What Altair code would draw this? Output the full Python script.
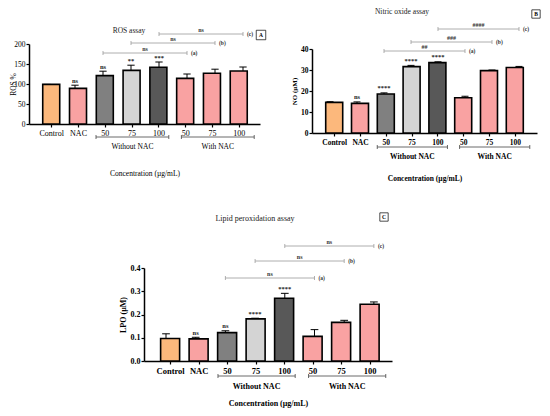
import json
import altair as alt
import pandas as pd

# ---------------- data ----------------
categories = ["Control", "NAC", "50", "75", "100", "50", "75", "100"]
positions = [1, 2, 3, 4, 5, 6, 7, 8]
keys = ["control", "nac", "wo50", "wo75", "wo100", "w50", "w75", "w100"]

ros_mean = [99, 89, 121, 134, 142, 114, 127, 132.5]
ros_err = [0, 8, 11, 13, 13, 11, 10, 10]
ros_sig = ["", "ns", "ns", "**", "***", "", "", ""]

no_mean = [14.6, 14.1, 18.6, 31.6, 33.5, 16.8, 29.7, 31.2]
no_err = [0.3, 0.7, 0.5, 0.6, 0.4, 0.7, 0.3, 0.5]
no_sig = ["", "ns", "****", "****", "****", "", "", ""]

lpo_mean = [0.097, 0.095, 0.122, 0.181, 0.270, 0.106, 0.166, 0.244]
lpo_err = [0.020, 0.007, 0.008, 0.003, 0.021, 0.029, 0.009, 0.010]
lpo_sig = ["", "ns", "ns", "****", "****", "", "", ""]

group_names = ["Without NAC", "With NAC"]
group_start = [2.75, 5.8]
group_end = [5.35, 8.4]

comp_from = [3, 4, 5]
comp_to = [6, 7, 8]
comp_tag = ["(a)", "(b)", "(c)"]
ros_comp = ["ns", "ns", "ns"]
no_comp = ["##", "###", "####"]
lpo_comp = ["ns", "ns", "ns"]

# ---------------- style ----------------
palette = ["#FCB87C", "#F9A2A2", "#808080", "#D4D4D4", "#585858",
           "#F9A2A2", "#F9A2A2", "#F9A2A2"]
FONT = "Liberation Serif"
W, H = 534, 400
LINE_GRAY = "#9a9a9a"

label_expr = json.dumps(categories) + "[datum.value - 1]"


def panel(mean, err, sig, comps, cfg):
    df = pd.DataFrame({"pos": positions, "key": keys, "mean": mean,
                       "err": err, "sig": sig})
    bold = "bold" if cfg["bold"] else "normal"

    def xs():
        return alt.Scale(domain=cfg["xd"], range=cfg["xr"], nice=False, zero=False)

    def ys():
        return alt.Scale(domain=cfg["yd"], range=cfg["yr"], nice=False, zero=False)

    xa = alt.Axis(orient="bottom", values=positions, labelExpr=label_expr,
                  offset=cfg["yr"][0] - H, title="Concentration (µg/mL)",
                  titleY=cfg["xtitle_y"], titleBaseline="middle",
                  titleFontWeight=bold, titleFontSize=cfg["xtitle_fs"],
                  labelFontWeight=bold, labelFontSize=cfg["xlab_fs"],
                  labelAngle=0, tickSize=3, labelPadding=2)
    ya = alt.Axis(orient="left", values=cfg["yticks"], format=cfg["yfmt"],
                  offset=-cfg["xr"][0], title=cfg["ytitle"],
                  titleX=cfg["ytitle_x"], titleBaseline="middle",
                  titleFontWeight=bold, titleFontSize=cfg["ytitle_fs"],
                  labelFontWeight=bold, labelFontSize=cfg["ylab_fs"],
                  tickSize=3, labelPadding=1)

    base = alt.Chart(df).transform_calculate(
        top="datum.mean + datum.err",
        cl="datum.pos - 0.13",
        cr="datum.pos + 0.13",
    )
    bars = base.mark_bar(size=cfg["bw"], stroke="black", strokeWidth=1.6,
                         orient="vertical").encode(
        x=alt.X("pos:Q", scale=xs(), axis=xa),
        y=alt.Y("mean:Q", scale=ys(), axis=ya),
        fill=alt.Fill("key:N", scale=alt.Scale(domain=keys, range=palette),
                      legend=None),
    )
    err_line = base.mark_rule(color="black", strokeWidth=1).encode(
        x=alt.X("pos:Q", scale=xs(), axis=None),
        y=alt.Y("mean:Q", scale=ys(), axis=None),
        y2="top:Q",
    )
    err_cap = base.mark_rule(color="black", strokeWidth=1).encode(
        x=alt.X("cl:Q", scale=xs(), axis=None),
        x2="cr:Q",
        y=alt.Y("top:Q", scale=ys(), axis=None),
    )
    stars = base.mark_text(baseline="bottom", dy=-1.5, font=FONT,
                           fontSize=6.5, fontWeight="bold", color="#222").encode(
        x=alt.X("pos:Q", scale=xs(), axis=None),
        y=alt.Y("top:Q", scale=ys(), axis=None),
        text="sig:N",
    )
    layers = [bars, err_line, err_cap, stars]

    # group brackets under the axis
    gdf = pd.DataFrame({"name": group_names, "start": group_start,
                        "end": group_end})
    gb = alt.Chart(gdf)
    yb = cfg["yr"][0] + cfg["bracket_dy"]
    layers.append(gb.mark_rule(color="#444", strokeWidth=0.8).encode(
        x=alt.X("start:Q", scale=xs(), axis=None), x2="end:Q", y=alt.value(yb)))
    layers.append(gb.transform_fold(["start", "end"], as_=["k", "v"])
                  .mark_rule(color="#444", strokeWidth=0.8).encode(
        x=alt.X("v:Q", scale=xs(), axis=None),
        y=alt.value(yb - 2), y2=alt.value(yb + 2)))
    layers.append(gb.transform_calculate(mid="(datum.start + datum.end) / 2")
                  .mark_text(baseline="middle", font=FONT,
                             fontSize=cfg["group_fs"], fontWeight=bold,
                             color="black").encode(
        x=alt.X("mid:Q", scale=xs(), axis=None),
        y=alt.value(cfg["yr"][0] + cfg["group_dy"]), text="name:N"))

    # comparison lines above
    cdf = pd.DataFrame({"from": comp_from, "to": comp_to, "label": comps,
                        "tag": comp_tag})
    for tag, yy in zip(comp_tag, cfg["comp_y"]):
        cb = alt.Chart(cdf).transform_filter(alt.datum.tag == tag)
        layers.append(cb.mark_rule(color=LINE_GRAY, strokeWidth=0.8).encode(
            x=alt.X("from:Q", scale=xs(), axis=None), x2="to:Q",
            y=alt.value(yy)))
        layers.append(cb.transform_fold(["from", "to"], as_=["k", "v"])
                      .mark_rule(color=LINE_GRAY, strokeWidth=0.8).encode(
            x=alt.X("v:Q", scale=xs(), axis=None),
            y=alt.value(yy - 2), y2=alt.value(yy + 2)))
        layers.append(cb.transform_calculate(mid="(datum.from + datum.to) / 2")
                      .mark_text(baseline="bottom", dy=-1, font=FONT,
                                 fontSize=6, fontWeight="bold",
                                 color="#333").encode(
            x=alt.X("mid:Q", scale=xs(), axis=None), y=alt.value(yy),
            text="label:N"))
        layers.append(cb.mark_text(align="left", baseline="middle", dx=4,
                                   font=FONT, fontSize=5.5, fontWeight="bold",
                                   color="#333").encode(
            x=alt.X("to:Q", scale=xs(), axis=None), y=alt.value(yy),
            text="tag:N"))

    # panel title and letter box
    tdf = pd.DataFrame({"t": [cfg["title"]], "letter": [cfg["letter"]]})
    tb = alt.Chart(tdf)
    layers.append(tb.mark_text(font=FONT, fontSize=cfg["title_fs"],
                               baseline="middle", color="#222").encode(
        x=alt.value(cfg["title_xy"][0]), y=alt.value(cfg["title_xy"][1]),
        text="t:N"))
    layers.append(tb.mark_point(shape="square", filled=False, size=cfg["box_size"],
                                stroke="black", strokeWidth=0.7, opacity=1).encode(
        x=alt.value(cfg["box_xy"][0]), y=alt.value(cfg["box_xy"][1])))
    layers.append(tb.mark_text(font=FONT, fontSize=5.5, fontWeight="bold",
                               baseline="middle", color="black").encode(
        x=alt.value(cfg["box_xy"][0]), y=alt.value(cfg["box_xy"][1]),
        text="letter:N"))
    return layers


cfgA = dict(xd=[0.357, 8.607], xr=[21, 252], yd=[0, 200], yr=[116, 36],
            yticks=[0, 50, 100, 150, 200], yfmt="d", ytitle="ROS %",
            bold=False, bw=17, xtitle_y=49, xtitle_fs=7.5, xlab_fs=8,
            ytitle_x=-16, ytitle_fs=7.5, ylab_fs=7.5,
            bracket_dy=13, group_dy=23, group_fs=7.5,
            comp_y=[45, 35, 26], title="ROS assay", title_xy=[121, 23],
            title_fs=7.5, letter="A", box_xy=[253, 27], box_size=90)
cfgB = dict(xd=[0.333, 8.667], xr=[304, 529], yd=[0, 40], yr=[125, 41],
            yticks=[0, 10, 20, 30, 40], yfmt="d", ytitle="NO (µM)",
            bold=True, bw=17, xtitle_y=45, xtitle_fs=7.5, xlab_fs=7.5,
            ytitle_x=-18, ytitle_fs=7, ylab_fs=7.5,
            bracket_dy=14, group_dy=24, group_fs=7.5,
            comp_y=[43, 34, 21], title="Nitric oxide assay", title_xy=[394, 4],
            title_fs=7.5, letter="B", box_xy=[528, 6], box_size=70)
cfgC = dict(xd=[0.259, 8.61], xr=[136, 384], yd=[0, 0.4], yr=[353, 260],
            yticks=[0, 0.1, 0.2, 0.3, 0.4], yfmt=".1f", ytitle="LPO (µM)",
            bold=True, bw=19, xtitle_y=42, xtitle_fs=8, xlab_fs=8.5,
            ytitle_x=-21, ytitle_fs=8, ylab_fs=8,
            bracket_dy=15, group_dy=26, group_fs=8,
            comp_y=[270, 253, 238], title="Lipid peroxidation assay",
            title_xy=[247, 211], title_fs=8, letter="C", box_xy=[376, 209],
            box_size=70)

all_layers = (panel(ros_mean, ros_err, ros_sig, ros_comp, cfgA)
              + panel(no_mean, no_err, no_sig, no_comp, cfgB)
              + panel(lpo_mean, lpo_err, lpo_sig, lpo_comp, cfgC))

chart = alt.layer(*all_layers).resolve_scale(
    x="independent", y="independent"
).properties(
    width=W, height=H,
    autosize=alt.AutoSizeParams(type="none"),
    padding={"left": 0, "top": 0, "right": 0, "bottom": 0},
    background="white",
).configure_view(stroke=None).configure_axis(
    grid=False, domainColor="black", domainWidth=1.5, tickColor="black",
    tickWidth=1.2, labelColor="black", titleColor="black",
    labelFont=FONT, titleFont=FONT,
)

chart.save("out.html", embed_options={"renderer": "svg", "actions": False})
